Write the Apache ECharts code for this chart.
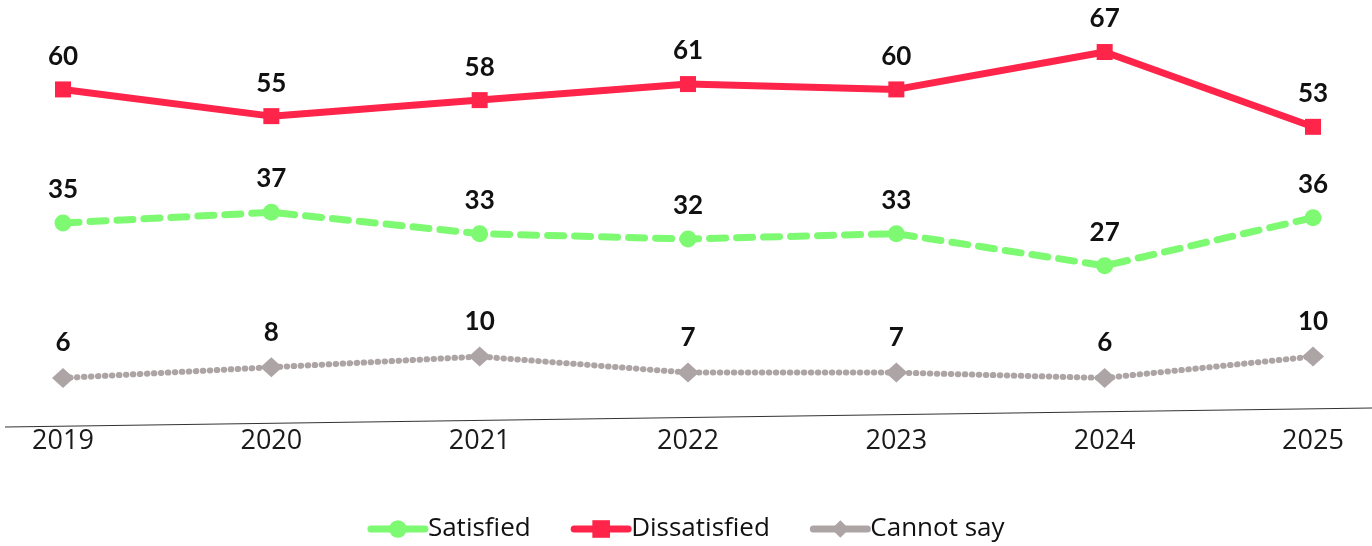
<!DOCTYPE html>
<html>
<head>
<meta charset="utf-8">
<script src="https://cdn.jsdelivr.net/npm/echarts@6/dist/echarts.min.js"></script>
<style>
  html, body { margin: 0; padding: 0; background: #fff; }
  #chart { width: 1372px; height: 546px; }
</style>
</head>
<body>
<div id="chart"></div>
<script>
// survey results by year (%)
var years = ['2019', '2020', '2021', '2022', '2023', '2024', '2025'];
var satisfied = [35, 37, 33, 32, 33, 27, 36];
var dissatisfied = [60, 55, 58, 61, 60, 67, 53];
var cannotSay = [6, 8, 10, 7, 7, 6, 10];

var labelStyle = {
    show: true,
    position: 'top',
    distance: 12,
    fontFamily: 'Lato',
    fontWeight: 'bold',
    fontSize: 26,
    color: '#111'
};

var chart = echarts.init(document.getElementById('chart'));
chart.setOption({
    animation: false,
    textStyle: { fontFamily: 'Lato' },
    grid: { left: 63, right: 59, top: 36, bottom: 136 },
    xAxis: {
        type: 'category',
        data: years,
        boundaryGap: false,
        axisLine: { show: false },
        axisTick: { show: false },
        axisLabel: { fontFamily: 'Open Sans', fontSize: 27, color: '#1a1a1a', margin: 18 }
    },
    yAxis: {
        type: 'value',
        min: 0,
        max: 70,
        show: false,
        splitLine: { show: false }
    },
    legend: {
        top: 511,
        left: 'center',
        itemWidth: 54,
        itemHeight: 22,
        itemGap: 40,
        lineStyle: { type: 'solid', width: 7, cap: 'round' },
        textStyle: { fontFamily: 'Open Sans', fontSize: 26, color: '#111', padding: [0, 0, 0, -2] }
    },
    // slightly slanted baseline, as in the original
    graphic: [{
        type: 'line',
        shape: { x1: 5, y1: 427, x2: 1372, y2: 408 },
        style: { stroke: '#333', lineWidth: 1.2 },
        silent: true
    }],
    series: [{
        name: 'Satisfied',
        type: 'line',
        data: satisfied,
        symbol: 'circle',
        symbolSize: 17,
        itemStyle: { color: '#7DFA72' },
        lineStyle: { color: '#7DFA72', width: 7, type: [16, 11], cap: 'round' },
        label: labelStyle
    }, {
        name: 'Dissatisfied',
        type: 'line',
        data: dissatisfied,
        symbol: 'rect',
        symbolSize: 16,
        itemStyle: { color: '#FF2449' },
        lineStyle: { color: '#FF2449', width: 7 },
        label: labelStyle
    }, {
        name: 'Cannot say',
        type: 'line',
        data: cannotSay,
        symbol: 'diamond',
        symbolSize: [22, 20],
        itemStyle: { color: '#ADA5A5' },
        lineStyle: { color: '#ADA5A5', width: 6, type: [0.5, 6.5], cap: 'round' },
        label: labelStyle
    }]
});
</script>
</body>
</html>
